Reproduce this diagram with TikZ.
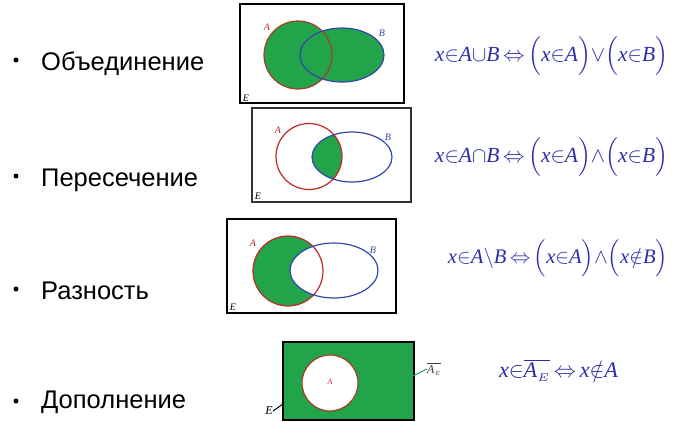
\documentclass[tikz,border=0pt]{standalone}
\usepackage{fontspec}
\usepackage{amsmath}
\usepackage{graphicx}
\setmainfont{Liberation Sans}
\newfontfamily\fser{Liberation Serif}
\newcommand{\fv}[1]{\text{\fser\itshape #1}}
\definecolor{vgreen}{RGB}{34,164,74}
\definecolor{ared}{RGB}{190,40,40}
\definecolor{abrown}{RGB}{165,60,40}
\definecolor{bblue}{RGB}{50,70,170}
\definecolor{fblue}{RGB}{45,45,170}
\definecolor{lgreen}{RGB}{40,150,110}
\tikzset{
  lbl/.style={anchor=base west,font=\fontsize{25.5}{28}\selectfont,inner sep=0pt},
  bul/.style={circle,fill=black,inner sep=0pt,minimum size=5pt},
  frm/.style={anchor=center,inner sep=0pt,text=fblue},
  ebox/.style={draw=black,line width=1.6pt},
  setA/.style={draw=ared,line width=1.2pt},
  setB/.style={draw=bblue,line width=1.2pt},
  sl/.style={inner sep=0pt,font=\fontsize{10}{11}\fser\itshape},
}
\begin{document}
\begin{tikzpicture}[x=1pt,y=-1pt]
\useasboundingbox (0,0) rectangle (674,421);
% left labels
\node[bul] (b1) at (16,60) {};
\node[lbl] (t1) at (41,70) {Объединение};
\node[bul] (b2) at (16,176) {};
\node[lbl] (t2) at (41,186) {Пересечение};
\node[bul] (b3) at (16,289) {};
\node[lbl] (t3) at (41,299) {Разность};
\node[bul] (b4) at (16,401) {};
\node[lbl] (t4) at (41,408) {Дополнение};

% panel 1: union
\fill[vgreen] (298,55) circle (34);
\fill[vgreen] (342,55) ellipse (42 and 27);
\draw[draw=abrown,line width=1.2pt] (298,55) circle (34);
\draw[setB] (342,55) ellipse (42 and 27);
\draw[ebox] (240,4) rectangle (404,103);
\node[sl,text=ared] (a1) at (267,27) {A};
\node[sl,text=bblue] (bb1) at (382,33) {B};
\node[sl] (e1) at (246,98) {E};

% panel 2: intersection
\begin{scope}
\clip (309,156.5) circle (33);
\fill[vgreen] (352,157) ellipse (40 and 25);
\end{scope}
\draw[setA] (309,156.5) circle (33);
\draw[setB] (352,157) ellipse (40 and 25);
\draw[draw=black!80,line width=1.4pt] (252,108) rectangle (411,202);
\node[sl,text=ared] (a2) at (278,130) {A};
\node[sl,text=bblue] (bb2) at (388,137) {B};
\node[sl] (e2) at (258,196) {E};

% panel 3: difference
\fill[vgreen] (288,271) circle (35);
\fill[white] (334,270.5) ellipse (44 and 27.5);
\draw[setA] (288,271) circle (35);
\draw[setB] (334,270.5) ellipse (44 and 27.5);
\draw[ebox] (227,219) rectangle (396,313);
\node[sl,text=ared] (a3) at (253,243) {A};
\node[sl,text=bblue] (bb3) at (373,250) {B};
\node[sl] (e3) at (233,307) {E};

% panel 4: complement
\fill[vgreen] (283,342) rectangle (414,420);
\draw[draw=black,line width=1.2pt] (283,342) rectangle (414,420);
\fill[white] (330,383) circle (28);
\draw[draw=abrown,line width=1.2pt] (330,383) circle (28);
\node[sl,text=ared!70!magenta,font=\fontsize{8}{9}\fser\itshape] (a4) at (330,382) {A};
\coordinate (ae1) at (413,376);
\node[sl,anchor=west,text=black!75,font=\fontsize{12}{13}\fser\itshape] (ae) at (427,369) {$\overline{\fv{A}_{\scriptscriptstyle E}}$};
\draw[lgreen,line width=1pt] (ae1) -- (ae.west);
\node[sl,anchor=east,font=\fontsize{12}{13}\fser\itshape] (e4) at (273,411) {E};
\coordinate (ee1) at (283,404);
\draw[black,line width=1pt] (e4.east) -- (ee1);

% formulas
\node[frm] (f1) at (551.5,56) {\resizebox{233pt}{!}{$\fv{x}{\in}\fv{A}{\cup}\fv{B}\,{\Leftrightarrow}\,\Bigl(\fv{x}{\in}\fv{A}\Bigr){\vee}\Bigl(\fv{x}{\in}\fv{B}\Bigr)$}};
\node[frm] (f2) at (551.5,157) {\resizebox{233pt}{!}{$\fv{x}{\in}\fv{A}{\cap}\fv{B}\,{\Leftrightarrow}\,\Bigl(\fv{x}{\in}\fv{A}\Bigr){\wedge}\Bigl(\fv{x}{\in}\fv{B}\Bigr)$}};
\node[frm] (f3) at (558,258) {\resizebox{220pt}{!}{$\fv{x}{\in}\fv{A}{\setminus}\fv{B}\,{\Leftrightarrow}\,\Bigl(\fv{x}{\in}\fv{A}\Bigr){\wedge}\Bigl(\fv{x}{\notin}\fv{B}\Bigr)$}};
\node[frm] (f4) at (558.5,370) {\resizebox{119pt}{!}{$\fv{x}{\in}\overline{\fv{A}_{\scriptscriptstyle E}}\,{\Leftrightarrow}\,\fv{x}{\notin}\fv{A}$}};
\end{tikzpicture}
\end{document}
